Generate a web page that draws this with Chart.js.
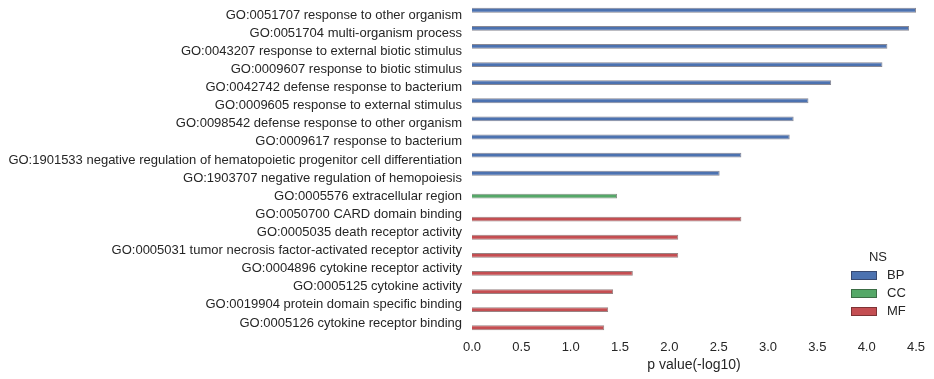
<!DOCTYPE html>
<html>
<head>
<meta charset="utf-8">
<script src="https://cdn.jsdelivr.net/npm/chart.js@4/dist/chart.umd.min.js"></script>
<style>
html,body{margin:0;padding:0;background:#fff;}
#wrap{width:934px;height:379px;position:relative;}
</style>
</head>
<body>
<div id="wrap"><canvas id="c" width="934" height="379"></canvas></div>
<script>
const categories = [
  "GO:0051707 response to other organism",
  "GO:0051704 multi-organism process",
  "GO:0043207 response to external biotic stimulus",
  "GO:0009607 response to biotic stimulus",
  "GO:0042742 defense response to bacterium",
  "GO:0009605 response to external stimulus",
  "GO:0098542 defense response to other organism",
  "GO:0009617 response to bacterium",
  "GO:1901533 negative regulation of hematopoietic progenitor cell differentiation",
  "GO:1903707 negative regulation of hemopoiesis",
  "GO:0005576 extracellular region",
  "GO:0050700 CARD domain binding",
  "GO:0005035 death receptor activity",
  "GO:0005031 tumor necrosis factor-activated receptor activity",
  "GO:0004896 cytokine receptor activity",
  "GO:0005125 cytokine activity",
  "GO:0019904 protein domain specific binding",
  "GO:0005126 cytokine receptor binding"
];
const seriesNames = ["BP", "CC", "MF"];
const bpValues = [4.50, 4.43, 4.21, 4.16, 3.64, 3.41, 3.26, 3.22, 2.73, 2.51,
                  null, null, null, null, null, null, null, null];
const ccValues = [null, null, null, null, null, null, null, null, null, null,
                  1.47, null, null, null, null, null, null, null];
const mfValues = [null, null, null, null, null, null, null, null, null, null,
                  null, 2.73, 2.09, 2.09, 1.63, 1.43, 1.38, 1.34];
const xTicks = [0, 0.5, 1, 1.5, 2, 2.5, 3, 3.5, 4, 4.5];

const fills = ["#4C72B0", "#55A868", "#C44E52"];
const edges = ["rgba(40,40,60,0.55)", "rgba(40,60,40,0.55)", "rgba(70,30,30,0.55)"];
const textColor = "#262626";
const FONT = "'Liberation Sans', Arial, sans-serif";

const legendPlugin = {
  id: 'nsLegend',
  afterDraw(chart) {
    const ctx = chart.ctx;
    ctx.save();
    ctx.fillStyle = textColor;
    ctx.font = "13px " + FONT;
    ctx.textAlign = "center";
    ctx.textBaseline = "middle";
    ctx.fillText("NS", 878, 257);
    chart.data.datasets.forEach((ds, i) => {
      const cy = 275.5 + i * 18;
      ctx.fillStyle = ds.backgroundColor;
      ctx.fillRect(851, cy - 4.5, 26, 9);
      ctx.strokeStyle = ds.borderColor;
      ctx.lineWidth = 1;
      ctx.strokeRect(851.5, cy - 4, 25, 8);
      ctx.fillStyle = textColor;
      ctx.textAlign = "left";
      ctx.fillText(ds.label, 887, cy);
    });
    ctx.restore();
  }
};

new Chart(document.getElementById('c'), {
  type: 'bar',
  data: {
    labels: categories,
    datasets: [bpValues, ccValues, mfValues].map((vals, i) => ({
      label: seriesNames[i],
      data: vals,
      backgroundColor: fills[i],
      borderColor: edges[i],
      borderWidth: 1,
      categoryPercentage: 0.8,
      barPercentage: 1.0
    }))
  },
  options: {
    indexAxis: 'y',
    responsive: false,
    animation: false,
    devicePixelRatio: 1,
    layout: { padding: { top: 6, right: 18, left: 0, bottom: 0 } },
    plugins: { legend: { display: false }, tooltip: { enabled: false } },
    scales: {
      x: {
        min: 0, max: 4.5,
        grid: { display: false, drawTicks: false },
        border: { display: false },
        afterBuildTicks(scale) { scale.ticks = xTicks.map(v => ({ value: v })); },
        afterFit(scale) { scale.height = 47; },
        ticks: {
          color: textColor,
          font: { family: FONT, size: 13 },
          padding: 8,
          callback: v => Number(v).toFixed(1)
        },
        title: {
          display: true,
          text: "p value(-log10)",
          color: textColor,
          font: { family: FONT, size: 14 },
          padding: { top: 0, bottom: 5 }
        }
      },
      y: {
        grid: { display: false, drawTicks: false },
        border: { display: false },
        afterFit(scale) { scale.width = 472; scale.paddingTop = 0; scale.paddingBottom = 0; },
        ticks: {
          color: textColor,
          font: { family: FONT, size: 13 },
          padding: 10,
          autoSkip: false
        }
      }
    }
  },
  plugins: [legendPlugin]
});
</script>
</body>
</html>
